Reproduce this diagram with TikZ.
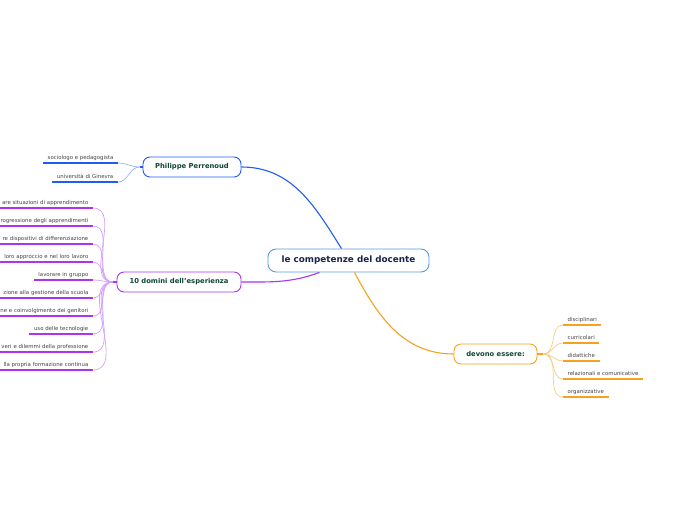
\documentclass[tikz,border=0pt]{standalone}
\usepackage{fontspec}
\setmainfont{DejaVu Sans}
\usetikzlibrary{positioning}

\definecolor{rootline}{RGB}{86,156,222}
\definecolor{rootink}{RGB}{22,36,72}
\definecolor{topicink}{RGB}{18,70,52}
\definecolor{leafink}{RGB}{68,68,68}
\definecolor{perblue}{RGB}{32,92,240}
\definecolor{perlight}{RGB}{150,178,250}
\definecolor{dompurple}{RGB}{172,52,240}
\definecolor{domlight}{RGB}{214,160,250}
\definecolor{devorange}{RGB}{246,162,32}
\definecolor{devlight}{RGB}{250,204,130}

\tikzset{
  root/.style={rectangle, draw=rootline, rounded corners=8pt, line width=0.9pt,
               fill=white, minimum width=161pt, minimum height=23pt, inner sep=0pt,
               font=\fontsize{8.8}{10}\selectfont\bfseries, text=rootink},
  topic/.style={rectangle, draw=#1, rounded corners=7pt, line width=0.9pt,
                fill=white, minimum height=20pt, inner sep=0pt,
                font=\fontsize{6.8}{8}\selectfont\bfseries, text=topicink},
  leaf/.style={inner xsep=4.5pt, inner ysep=2.5pt, text depth=1pt,
               font=\fontsize{5.4}{6}\selectfont, text=leafink},
  cut/.style={text width=100pt, align=right},
  link/.style={line width=1.1pt, draw=#1},
  under/.style={line width=1.7pt, draw=#1},
  twig/.style={line width=0.7pt, draw=#1},
}

\begin{document}
\begin{tikzpicture}[x=1pt, y=-1pt]
  \useasboundingbox[fill=white] (0,0) rectangle (696,520);

  % centre and main topics
  \node[root] (cen) at (348.5,260.5) {le competenze del docente};
  \node[topic=perblue, minimum width=98pt] (per) at (192,167) {Philippe Perrenoud};
  \node[topic=dompurple, minimum width=124pt] (dom) at (179,282) {10 domini dell'esperienza};
  \node[topic=devorange, minimum width=83pt] (dev) at (495.5,354) {devono essere:};

  \draw[link=perblue] (per.east) to[out=0, in=122] ([xshift=-7pt]cen.north);
  \draw[link=dompurple] (dom.east) to[out=0, in=200] ([xshift=-29pt]cen.south);
  \draw[link=devorange] ([xshift=6pt]cen.south) to[out=-62, in=180] (dev.west);

  % Philippe Perrenoud
  \node[leaf, anchor=south east] (p1) at (118,163) {sociologo e pedagogista};
  \node[leaf, anchor=south east] (p2) at (118,182) {università di Ginevra};
  \coordinate (hubP) at ([xshift=-3pt]per.west);
  \draw[under=perblue] (hubP) -- (per.west);
  \foreach \i in {1,2} {
    \draw[under=perblue] (p\i.south west) -- (p\i.south east);
    \draw[twig=perlight] (p\i.south east) to[out=0, in=180] (hubP);
  }

  % 10 domini
  \node[leaf, cut, anchor=south east] (d1) at (93,208) {are situazioni di apprendimento};
  \node[leaf, cut, anchor=south east] (d2) at (93,226) {rogressione degli apprendimenti};
  \node[leaf, cut, anchor=south east] (d3) at (93,244) {re dispositivi di differenziazione};
  \node[leaf, cut, anchor=south east] (d4) at (93,262) {loro approccio e nel loro lavoro};
  \node[leaf, anchor=south east] (d5) at (93,280) {lavorare in gruppo};
  \node[leaf, cut, anchor=south east] (d6) at (93,298) {zione alla gestione della scuola};
  \node[leaf, cut, anchor=south east] (d7) at (93,316) {ne e coinvolgimento dei genitori};
  \node[leaf, anchor=south east] (d8) at (93,334) {uso delle tecnologie};
  \node[leaf, cut, anchor=south east] (d9) at (93,352) {veri e dilemmi della professione};
  \node[leaf, cut, anchor=south east] (d10) at (93,370) {lla propria formazione continua};
  \coordinate (hubD) at ([xshift=-4pt]dom.west);
  \draw[under=dompurple] (hubD) -- (dom.west);
  \foreach \i in {1,...,10} {
    \draw[under=dompurple] (d\i.south west) -- (d\i.south east);
    \draw[twig=domlight] (d\i.south east) to[out=0, in=180] (hubD);
  }

  % devono essere
  \node[leaf, anchor=south west] (e1) at (563,325) {disciplinari};
  \node[leaf, anchor=south west] (e2) at (563,343) {curricolari};
  \node[leaf, anchor=south west] (e3) at (563,361) {didattiche};
  \node[leaf, anchor=south west] (e4) at (563,379) {relazionali e comunicative};
  \node[leaf, anchor=south west] (e5) at (563,397) {organizzative};
  \coordinate (hubE) at ([xshift=6pt]dev.east);
  \draw[under=devorange] (dev.east) -- (hubE);
  \foreach \i in {1,...,5} {
    \draw[under=devorange] (e\i.south west) -- (e\i.south east);
    \draw[twig=devlight] (hubE) to[out=0, in=180] (e\i.south west);
  }
\end{tikzpicture}
\end{document}
